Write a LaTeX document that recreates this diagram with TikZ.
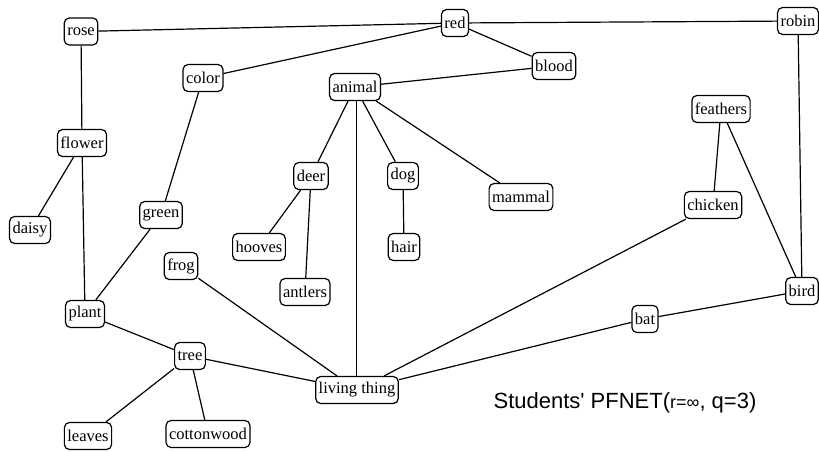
\documentclass[tikz,border=0pt]{standalone}
\usepackage{fontspec}
\setmainfont{Liberation Serif}
\newfontfamily\captionfont{Liberation Sans}
\begin{document}
\begin{tikzpicture}[x=1pt,y=-1pt,
  concept/.style={draw, line width=1.2pt, rounded corners=5pt, fill=white,
    inner xsep=3pt, inner ysep=0pt, minimum height=27pt,
    font=\fontsize{16.5}{18}\selectfont},
  link/.style={line width=1.2pt}]
\useasboundingbox[fill=white] (0,0) rectangle (819,452);

% concepts
\node[concept] (rose)     at (81,31.5)  {rose};
\node[concept] (red)      at (455,23)   {red};
\node[concept] (robin)    at (798,21)   {robin};
\node[concept] (blood)    at (554,66)   {blood};
\node[concept] (color)    at (203,78)   {color};
\node[concept] (animal)   at (355,87)   {animal};
\node[concept] (flower)   at (82,143)   {flower};
\node[concept] (feathers) at (721,109)  {feathers};
\node[concept] (deer)     at (311,176)  {deer};
\node[concept] (dog)      at (403,176)  {dog};
\node[concept] (mammal)   at (521,197)  {mammal};
\node[concept] (chicken)  at (713,205)  {chicken};
\node[concept] (green)    at (161,215)  {green};
\node[concept] (daisy)    at (30,230)   {daisy};
\node[concept] (hooves)   at (259,247)  {hooves};
\node[concept] (hair)     at (404,247)  {hair};
\node[concept] (frog)     at (181,266)  {frog};
\node[concept] (antlers)  at (305,292)  {antlers};
\node[concept] (bird)     at (802,291)  {bird};
\node[concept] (plant)    at (85,314)   {plant};
\node[concept] (bat)      at (645,319)  {bat};
\node[concept] (tree)     at (190,356)  {tree};
\node[concept] (living)   at (357,390)  {living thing};
\node[concept] (leaves)   at (88,436)   {leaves};
\node[concept] (cotton)   at (208,434)  {cottonwood};

% caption
\node (caption) at (625,403) {\captionfont\fontsize{22}{24}\selectfont
  Students' PFNET({\fontsize{18}{20}\selectfont r=∞}, q=3)};

% links
\foreach \a/\b in {rose/red, rose/flower, flower/daisy, flower/plant,
    red/color, red/blood, red/robin, blood/animal, color/green, green/plant,
    animal/deer, animal/dog, animal/mammal, deer/hooves, deer/antlers,
    dog/hair, feathers/chicken, feathers/bird, robin/bird, chicken/living,
    bat/bird, bat/living, frog/living, plant/tree, tree/living,
    tree/leaves, tree/cotton}
  \draw[link] (\a) -- (\b);
% vertical link from animal down to living thing
\coordinate (vx) at (356.5,0);
\draw[link] (animal.south -| vx) -- (living.north -| vx);
\end{tikzpicture}
\end{document}
